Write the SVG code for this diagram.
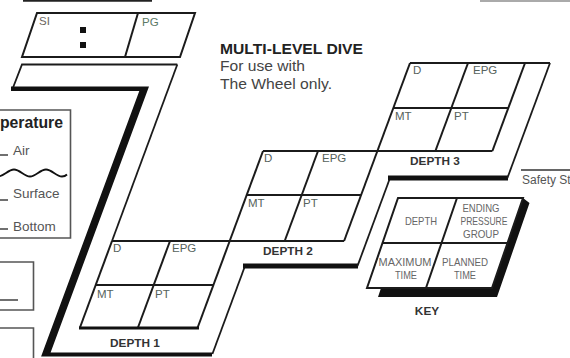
<svg xmlns="http://www.w3.org/2000/svg" width="570" height="358" viewBox="0 0 570 358">
<style>
.ln{stroke:#1b1b1b;stroke-width:2;fill:none;stroke-linejoin:miter}
.thin{stroke:#1b1b1b;stroke-width:1.8;fill:none}
.blk{fill:#111}
.box{stroke:#555;stroke-width:1.6;fill:none}
.lbl{font-family:"Liberation Sans",Arial,sans-serif;font-size:11.5px;fill:#56625c}
.dl{font-family:"Liberation Sans",Arial,sans-serif;font-size:11.8px;font-weight:bold;fill:#333}
.kt{font-family:"Liberation Sans Narrow","Liberation Sans",Arial,sans-serif;font-size:11px;fill:#666;text-anchor:middle}
.tt{font-family:"Liberation Sans",Arial,sans-serif;fill:#555;font-size:13.5px}
.ti{font-family:"Liberation Sans",Arial,sans-serif;fill:#444;font-size:15px}
</style>
<rect width="570" height="358" fill="#fff"/>

<g id="fragments">
  <line x1="23" y1="0.8" x2="152" y2="0.8" stroke="#222" stroke-width="2"/>
  <line x1="480" y1="1" x2="570" y2="1" stroke="#aaa" stroke-width="2"/>
  <line x1="521" y1="170" x2="570" y2="170" stroke="#333" stroke-width="1.3"/>
  <text x="522" y="184" font-family="Liberation Sans, Arial, sans-serif" font-size="12" fill="#555">Safety St</text>
</g>

<g id="si-pg">
  <polygon points="37,13 195,13 180,57 22,57" class="ln"/>
  <line x1="138" y1="13" x2="125" y2="57" class="ln"/>
  <rect x="80" y="27" width="6" height="6" class="blk"/>
  <rect x="80" y="42" width="6" height="6" class="blk"/>
  <text x="39" y="25" class="lbl" style="fill:#6b6560">SI</text>
  <text x="142" y="26" class="lbl" style="fill:#5c7a66">PG</text>
</g>

<g id="temperature">
  <polyline points="0,110 70.5,110 70.5,238 0,238" class="box"/>
  <text x="0" y="128" font-family="Liberation Sans, Arial, sans-serif" font-size="16" font-weight="bold" fill="#222" textLength="63" lengthAdjust="spacingAndGlyphs">perature</text>
  <line x1="0" y1="155" x2="8" y2="155" stroke="#333" stroke-width="1.4"/>
  <text x="13" y="155" class="tt">Air</text>
  <path d="M-2,176.5 C4,176.5 8,169.5 14,169.5 C20,169.5 24,176.5 30,176.5 C36,176.5 40,169.5 46,169.5 C52,169.5 56,176.5 62,176.5 C64,176.5 66,175.5 67,174.5" stroke="#111" stroke-width="1.8" fill="none"/>
  <line x1="0" y1="200" x2="8" y2="200" stroke="#333" stroke-width="1.4"/>
  <text x="13" y="198" class="tt">Surface</text>
  <line x1="0" y1="229" x2="8" y2="229" stroke="#333" stroke-width="1.4"/>
  <text x="13" y="231" class="tt">Bottom</text>
</g>

<g id="box-lower-1">
  <polyline points="0,262 33.5,262 33.5,310 0,310" class="box"/>
  <line x1="0" y1="300" x2="18" y2="300" stroke="#333" stroke-width="1.4"/>
</g>
<g id="box-lower-2">
  <polyline points="0,328 33.5,328 33.5,360" class="box"/>
</g>

<g id="title">
  <text x="220" y="54" class="ti" font-weight="bold" style="fill:#222" textLength="143" lengthAdjust="spacingAndGlyphs">MULTI-LEVEL DIVE</text>
  <text x="220" y="71.3" class="ti" textLength="85" lengthAdjust="spacingAndGlyphs">For use with</text>
  <text x="220" y="88.7" class="ti" textLength="112" lengthAdjust="spacingAndGlyphs">The Wheel only.</text>
</g>

<g id="connectors">
  <polyline points="177.3,64.5 22,64.5 12.5,89" class="thin"/>
  <line x1="177.3" y1="64.5" x2="112" y2="241" class="thin"/>
  <polygon points="11,86.5 149,86.5 50.6,352.5 212,352.5 212,356.5 41.1,356.5 139.3,91 11,91" class="blk"/>
  <line x1="245" y1="266" x2="212.4" y2="354" class="thin"/>
  <rect x="243" y="263.5" width="115" height="5" class="blk"/>
  <line x1="357.5" y1="266" x2="390" y2="178" class="thin"/>
  <rect x="388" y="175.5" width="120" height="5" class="blk"/>
  <line x1="525" y1="63" x2="550" y2="63" class="ln"/>
  <line x1="550" y1="63" x2="507.4" y2="178" class="thin"/>
</g>

<g id="depth1">
  <line x1="112" y1="241" x2="229.7" y2="241" class="ln"/>
  <line x1="112" y1="241" x2="79.8" y2="328" class="ln"/>
  <line x1="229.7" y1="241" x2="197.5" y2="328" class="ln"/>
  <line x1="170" y1="241" x2="137.8" y2="328" class="ln"/>
  <line x1="95.8" y1="285" x2="213.5" y2="285" class="ln"/>
  <line x1="79" y1="328" x2="199" y2="328" stroke="#111" stroke-width="3"/>
  <text x="113" y="252" class="lbl">D</text>
  <text x="172" y="252" class="lbl">EPG</text>
  <text x="97" y="298" class="lbl">MT</text>
  <text x="155" y="298" class="lbl">PT</text>
  <text x="110" y="347" class="dl">DEPTH 1</text>
</g>

<g id="depth2">
  <line x1="263" y1="151" x2="377.4" y2="151" class="ln"/>
  <line x1="263" y1="151" x2="229.7" y2="241" class="ln"/>
  <line x1="377.4" y1="151" x2="344.1" y2="241" class="ln"/>
  <line x1="229.7" y1="241" x2="344.1" y2="241" class="ln"/>
  <line x1="318" y1="151" x2="284.7" y2="241" class="ln"/>
  <line x1="246.8" y1="195" x2="361.2" y2="195" class="ln"/>
  <text x="264" y="162" class="lbl">D</text>
  <text x="322" y="162" class="lbl">EPG</text>
  <text x="248" y="207" class="lbl">MT</text>
  <text x="303" y="207" class="lbl">PT</text>
  <text x="263" y="255" class="dl">DEPTH 2</text>
</g>

<g id="depth3">
  <line x1="410" y1="63" x2="525" y2="63" class="ln"/>
  <line x1="410" y1="63" x2="377.4" y2="151" class="ln"/>
  <line x1="525" y1="63" x2="492.4" y2="151" class="ln"/>
  <line x1="377.4" y1="151" x2="492.4" y2="151" class="ln"/>
  <line x1="468" y1="63" x2="435.4" y2="151" class="ln"/>
  <line x1="393.3" y1="108" x2="508.3" y2="108" class="ln"/>
  <text x="413" y="74" class="lbl">D</text>
  <text x="473" y="74" class="lbl">EPG</text>
  <text x="395" y="120" class="lbl">MT</text>
  <text x="454" y="120" class="lbl">PT</text>
  <text x="410" y="165" class="dl">DEPTH 3</text>
</g>

<g id="key">
  <polygon points="523,198 529.5,203 497,297 378,297 381,288 492,288" class="blk"/>
  <polygon points="398,198 523,198 492,288 367,288" fill="#fff" stroke="#1b1b1b" stroke-width="2"/>
  <line x1="382.5" y1="243" x2="507.5" y2="243" class="ln"/>
  <line x1="457" y1="198" x2="426" y2="288" class="ln"/>
  <text x="421" y="225" class="kt" textLength="32" lengthAdjust="spacingAndGlyphs">DEPTH</text>
  <text x="481" y="212" class="kt" textLength="37" lengthAdjust="spacingAndGlyphs">ENDING</text>
  <text x="484" y="225" class="kt" textLength="47" lengthAdjust="spacingAndGlyphs">PRESSURE</text>
  <text x="481" y="238" class="kt" textLength="36" lengthAdjust="spacingAndGlyphs">GROUP</text>
  <text x="405" y="266" class="kt" textLength="53" lengthAdjust="spacingAndGlyphs">MAXIMUM</text>
  <text x="406" y="279" class="kt" textLength="22" lengthAdjust="spacingAndGlyphs">TIME</text>
  <text x="465" y="266" class="kt" textLength="46" lengthAdjust="spacingAndGlyphs">PLANNED</text>
  <text x="465" y="279" class="kt" textLength="22" lengthAdjust="spacingAndGlyphs">TIME</text>
  <text x="427" y="315" class="dl" font-size="12" text-anchor="middle">KEY</text>
</g>
</svg>
